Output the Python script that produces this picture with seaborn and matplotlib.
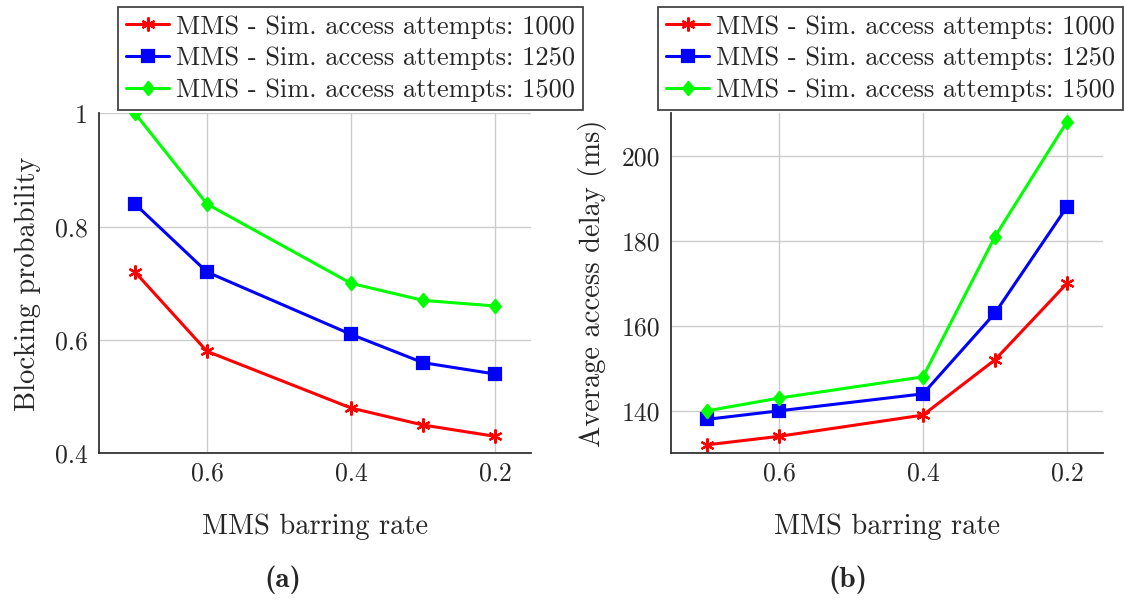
import pandas as pd
import matplotlib.pyplot as plt
import seaborn as sns
from matplotlib.path import Path

# Data
barring_rate = [0.7, 0.6, 0.4, 0.3, 0.2]
attempts = ["1000", "1250", "1500"]

blocking_1000 = [0.72, 0.58, 0.48, 0.45, 0.43]
blocking_1250 = [0.84, 0.72, 0.61, 0.56, 0.54]
blocking_1500 = [1.00, 0.84, 0.70, 0.67, 0.66]

delay_1000 = [132, 134, 139, 152, 170]
delay_1250 = [138, 140, 144, 163, 188]
delay_1500 = [140, 143, 148, 181, 208]

colors = ["#ff0000", "#0000ff", "#00ff00"]
# pgfplots-like diamond: a bit narrower than tall
diamond = Path([(0, 1), (0.8, 0), (0, -1), (-0.8, 0), (0, 1)],
               [Path.MOVETO, Path.LINETO, Path.LINETO, Path.LINETO, Path.CLOSEPOLY])
markers = [(6, 2, 0), "s", diamond]
marker_sizes = [10, 9, 9.5]


def build_frame(series):
    rows = []
    for att, vals in zip(attempts, series):
        for x, v in zip(barring_rate, vals):
            rows.append({"rate": x, "value": v,
                         "label": f"MMS - Sim. access attempts: {att}"})
    return pd.DataFrame(rows)


sns.set_style("white")
plt.rcParams["font.family"] = "serif"
plt.rcParams["font.serif"] = ["cmr10"]
plt.rcParams["mathtext.fontset"] = "cm"
plt.rcParams["axes.formatter.use_mathtext"] = True

fig = plt.figure(figsize=(11.24, 6.01), dpi=100)
ax1 = fig.add_axes([99 / 1124, 0.2457, 432 / 1124, 0.5657])
ax2 = fig.add_axes([671 / 1124, 0.2457, 432 / 1124, 0.5657])


def draw(ax, df, ylim, yticks, ylabel, legend_right, caption, caption_x):
    for i, (lab, grp) in enumerate(df.groupby("label", sort=False)):
        sns.lineplot(data=grp, x="rate", y="value", ax=ax, color=colors[i],
                     marker=markers[i], markersize=marker_sizes[i],
                     markeredgecolor=colors[i], markeredgewidth=1.6,
                     linewidth=2.2, label=lab, sort=False)
    ax.set_xlim(0.75, 0.15)
    ax.set_ylim(*ylim)
    ax.set_xticks([0.6, 0.4, 0.2])
    ax.set_xticklabels(["0.6", "0.4", "0.2"])
    ax.set_yticks(yticks)
    ax.set_yticklabels([f"{t:g}" for t in yticks])
    ax.grid(True, color="#cccccc", linewidth=1)
    for s in ["top", "right"]:
        ax.spines[s].set_visible(False)
    for s in ["left", "bottom"]:
        ax.spines[s].set_color("#333333")
        ax.spines[s].set_linewidth(1.3)
    ax.tick_params(direction="in", length=6, labelsize=18.5, color="#555555")
    ax.tick_params(axis="x", pad=6)
    ax.tick_params(axis="y", pad=8)
    ax.set_xlabel("MMS barring rate", fontsize=20.5, labelpad=20)
    ax.set_ylabel(ylabel, fontsize=20.5, labelpad=10)
    leg = ax.legend(loc="upper right", bbox_to_anchor=(legend_right, 1 - 7 / 601),
                    bbox_transform=fig.transFigure, fontsize=19,
                    frameon=True, fancybox=False, framealpha=1,
                    edgecolor="#444444", handlelength=1.65, borderpad=0.3,
                    labelspacing=0.3, handletextpad=0.25, borderaxespad=0)
    leg.get_frame().set_linewidth(1.3)
    fig.text(caption_x, 1 - 580 / 601, caption, fontsize=21,
             family="cmb10", ha="center", va="center")


draw(ax1, build_frame([blocking_1000, blocking_1250, blocking_1500]),
     (0.4, 1.0), [0.4, 0.6, 0.8, 1.0], "Blocking probability",
     583 / 1124, "(a)", 283 / 1124)
draw(ax2, build_frame([delay_1000, delay_1250, delay_1500]),
     (130, 210), [140, 160, 180, 200], "Average access delay (ms)",
     1123 / 1124, "(b)", 848 / 1124)

fig.savefig("out.png", dpi=100)
